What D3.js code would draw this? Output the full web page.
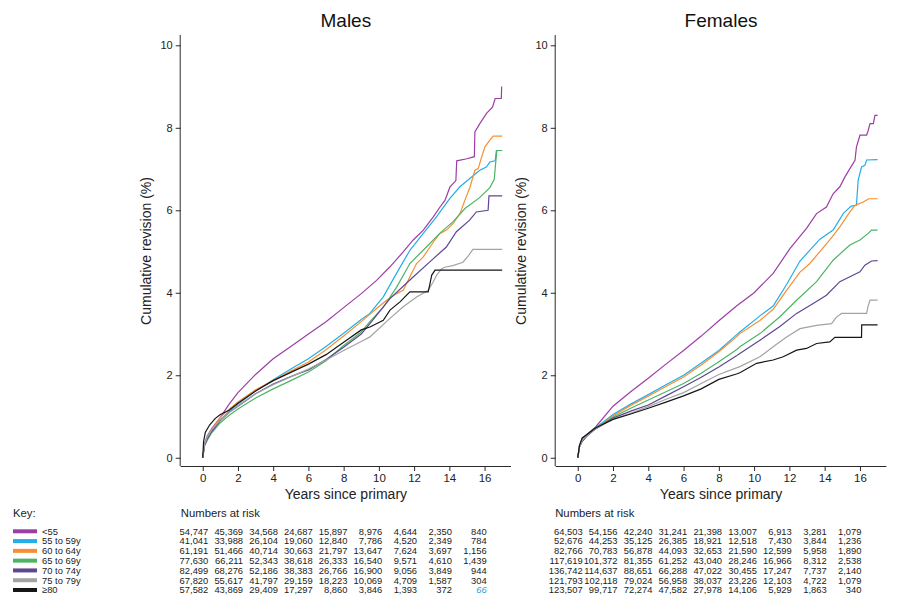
<!DOCTYPE html>
<html><head><meta charset="utf-8">
<script src="https://cdn.jsdelivr.net/npm/d3@7"></script>
<style>
html,body{margin:0;padding:0;background:#fff;}
svg{display:block;font-family:"Liberation Sans",Arial,Helvetica,sans-serif;}
</style></head>
<body><svg id="chart" width="901" height="610"></svg>
<script>
// ---------- DATA ----------
const ageGroups = ["<55","55 to 59y","60 to 64y","65 to 69y","70 to 74y","75 to 79y","\u226580"];
const yearTicks = [0,2,4,6,8,10,12,14,16];
const revisionTicks = [0,2,4,6,8,10];
const panelTitles = ["Males","Females"];

// Males cumulative revision (%) : [years, value]
const mLt55 = [[0,0],[0.1,0.35],[0.25,0.52],[0.5,0.7],[1,0.98],[1.5,1.3],[2,1.58],[3,2.02],[4,2.4],[5,2.7],[6,3.0],[7,3.3],[8,3.64],[9,3.98],[9.87,4.3],[10.63,4.63],[11.38,4.99],[11.95,5.28],[12.52,5.52],[13.09,5.84],[13.47,6.08],[13.75,6.24],[14.03,6.56],[14.37,6.72],[14.42,7.2],[15.0,7.25],[15.42,7.3],[15.45,7.9],[15.73,8.1],[16.11,8.35],[16.45,8.5],[16.6,8.71],[16.95,8.71],[16.97,9.0]];
const m5559 = [[0,0],[0.1,0.3],[0.25,0.48],[0.5,0.65],[1,0.92],[1.5,1.12],[2,1.3],[3,1.62],[4,1.89],[5,2.15],[6,2.4],[7,2.7],[8,3.02],[9,3.35],[9.49,3.5],[10.25,3.9],[11.0,4.47],[11.76,5.03],[12.52,5.44],[13.27,5.84],[14.03,6.29],[14.6,6.57],[15.16,6.77],[15.73,6.97],[16.1,7.05],[16.3,7.17],[16.6,7.2],[16.67,7.45],[17,7.45]];
const m6064 = [[0,0],[0.1,0.3],[0.25,0.48],[0.5,0.68],[1,0.98],[1.5,1.18],[2,1.35],[3,1.65],[4,1.87],[5,2.1],[6,2.32],[7,2.62],[8,2.95],[9,3.3],[9.87,3.62],[10.44,3.82],[11.0,3.98],[11.38,4.06],[11.76,4.39],[12.14,4.71],[12.52,4.87],[12.9,5.11],[13.18,5.28],[13.47,5.44],[13.84,5.52],[14.22,5.68],[14.6,5.92],[14.88,6.24],[15.17,6.56],[15.45,6.97],[15.64,7.01],[15.83,7.29],[16.02,7.54],[16.3,7.7],[16.49,7.8],[17,7.8]];
const m6569 = [[0,0],[0.1,0.28],[0.25,0.42],[0.5,0.6],[1,0.85],[1.5,1.03],[2,1.18],[3,1.45],[4,1.67],[5,1.87],[6,2.08],[7,2.35],[8,2.72],[9,3.05],[9.49,3.3],[10.25,3.65],[11.0,4.13],[11.76,4.71],[12.7,5.11],[13.45,5.44],[14.2,5.72],[14.9,6.05],[15.7,6.3],[16.3,6.55],[16.55,6.75],[16.62,7.1],[16.7,7.45],[17,7.45]];
const m7074 = [[0,0],[0.1,0.3],[0.25,0.45],[0.5,0.63],[1,0.9],[1.5,1.1],[2,1.25],[3,1.55],[4,1.79],[5,1.97],[6,2.13],[7,2.38],[8,2.68],[9,3.0],[9.49,3.25],[10.63,3.86],[11.76,4.31],[12.89,4.75],[13.83,5.11],[14.4,5.48],[15.15,5.76],[15.53,5.96],[16.2,6.0],[16.25,6.35],[17,6.35]];
const m7579 = [[0,0],[0.1,0.32],[0.25,0.5],[0.5,0.67],[1,0.92],[1.5,1.1],[2,1.26],[3,1.55],[4,1.77],[5,1.96],[6,2.15],[7,2.37],[8,2.6],[9,2.82],[9.49,2.93],[10.63,3.38],[11.38,3.66],[12.14,3.9],[12.8,4.06],[13.08,4.26],[13.27,4.42],[13.55,4.58],[13.74,4.62],[14.2,4.66],[14.77,4.74],[15.05,4.88],[15.34,5.05],[17,5.05]];
const m80 = [[0,0],[0.05,0.4],[0.15,0.62],[0.4,0.8],[0.7,0.95],[1,1.05],[1.5,1.15],[2,1.32],[3,1.62],[4,1.87],[5,2.07],[6,2.27],[7,2.5],[8,2.8],[9,3.1],[9.49,3.17],[10.25,3.33],[10.63,3.58],[11.2,3.78],[11.76,4.02],[12.8,4.02],[12.9,4.22],[13.0,4.43],[13.19,4.55],[17,4.55]];

// Females cumulative revision (%)
const fLt55 = [[0,0],[0.1,0.3],[0.25,0.45],[0.5,0.56],[1,0.74],[2,1.25],[3,1.6],[4,1.93],[5,2.27],[6,2.6],[7,2.95],[8,3.32],[9,3.68],[10,4.0],[11.08,4.47],[12.03,5.07],[12.97,5.56],[13.54,5.92],[14.1,6.08],[14.48,6.4],[14.86,6.57],[15.15,6.81],[15.43,7.01],[15.72,7.21],[15.8,7.53],[16.0,7.82],[16.38,7.82],[16.47,7.94],[16.57,8.1],[16.76,8.1],[16.85,8.3],[17,8.3]];
const f5559 = [[0,0],[0.1,0.28],[0.25,0.42],[0.5,0.55],[1,0.72],[2,1.05],[3,1.3],[4,1.53],[5,1.77],[6,2.0],[7,2.3],[8,2.6],[9,2.98],[9.19,3.05],[10.33,3.44],[11.08,3.68],[11.84,4.2],[12.6,4.77],[13.73,5.3],[14.48,5.52],[15.05,5.92],[15.5,6.1],[15.8,6.12],[15.9,6.73],[16.09,7.05],[16.28,7.09],[16.38,7.22],[17,7.23]];
const f6064 = [[0,0],[0.1,0.27],[0.25,0.4],[0.5,0.53],[1,0.7],[2,1.02],[3,1.27],[4,1.49],[5,1.73],[6,1.96],[7,2.25],[8,2.57],[9,2.93],[9.19,3.01],[10.33,3.33],[11.08,3.6],[11.84,4.06],[12.6,4.5],[13.16,4.71],[13.73,5.0],[14.29,5.28],[14.86,5.6],[15.43,5.96],[15.72,6.12],[16.19,6.2],[16.5,6.28],[17,6.28]];
const f6569 = [[0,0],[0.1,0.27],[0.25,0.4],[0.5,0.52],[1,0.7],[2,0.99],[3,1.2],[4,1.4],[5,1.6],[6,1.8],[7,2.05],[8,2.33],[9,2.62],[9.19,2.69],[10.33,3.01],[11.46,3.42],[12.41,3.82],[13.54,4.27],[14.48,4.79],[15.43,5.16],[16.0,5.28],[16.47,5.44],[16.66,5.52],[17,5.52]];
const f7074 = [[0,0],[0.1,0.27],[0.25,0.4],[0.5,0.52],[1,0.7],[2,0.96],[3,1.13],[4,1.28],[5,1.5],[6,1.72],[7,1.95],[8,2.2],[9,2.47],[9.19,2.53],[10.33,2.85],[11.46,3.18],[12.41,3.5],[13.35,3.74],[14.1,3.94],[14.86,4.27],[15.43,4.39],[16.0,4.51],[16.28,4.67],[16.66,4.77],[17,4.78]];
const f7579 = [[0,0],[0.1,0.27],[0.25,0.42],[0.5,0.53],[1,0.7],[2,0.94],[3,1.08],[4,1.24],[5,1.42],[6,1.58],[7,1.8],[8,2.02],[9,2.18],[9.19,2.21],[10.33,2.45],[11.08,2.69],[11.84,2.93],[12.6,3.13],[13.54,3.21],[14.39,3.25],[14.67,3.41],[14.96,3.5],[16.38,3.5],[16.45,3.66],[16.57,3.82],[17,3.82]];
const f80 = [[0,0],[0.1,0.3],[0.25,0.48],[0.5,0.56],[1,0.72],[2,0.93],[3,1.06],[4,1.2],[5,1.35],[6,1.5],[7,1.67],[8,1.9],[9,2.03],[9.19,2.06],[10.14,2.29],[11.08,2.37],[11.65,2.45],[12.41,2.61],[12.97,2.65],[13.54,2.77],[14.29,2.81],[14.58,2.92],[16.09,2.92],[16.1,3.22],[17,3.22]];

const malesSeries = [mLt55, m5559, m6064, m6569, m7074, m7579, m80];
const femalesSeries = [fLt55, f5559, f6064, f6569, f7074, f7579, f80];

// Numbers at risk at years 0,2,...,16
const riskMales = [
 [54747,45369,34568,24687,15897,8976,4644,2350,840],
 [41041,33988,26104,19060,12840,7786,4520,2349,784],
 [61191,51466,40714,30663,21797,13647,7624,3697,1156],
 [77630,66211,52343,38618,26333,16540,9571,4610,1439],
 [82499,68276,52186,38383,26766,16900,9056,3849,944],
 [67820,55617,41797,29159,18223,10069,4709,1587,304],
 [57582,43869,29409,17297,8860,3846,1393,372,66]
];
const riskFemales = [
 [64503,54156,42240,31241,21398,13007,6913,3281,1079],
 [52676,44253,35125,26385,18921,12518,7430,3844,1236],
 [82766,70783,56878,44093,32653,21590,12599,5958,1890],
 [117619,101372,81355,61252,43040,28246,16966,8312,2538],
 [136742,114637,88651,66288,47022,30455,17247,7737,2140],
 [121793,102118,79024,56958,38037,23226,12103,4722,1079],
 [123507,99717,72274,47582,27978,14106,5929,1863,340]
];

// ---------- STYLE ----------
const colors = ["#9c3fa3","#22aee6","#f78e33","#4cb463","#5f4690","#a3a3a3","#161616"];
const axisColor = "#2a2a2a";

const svg = d3.select("#chart");
const fmt = d3.format(",");

const panels = [
  {title: panelTitles[0], series: malesSeries, risk: riskMales, x0: 180.7, x1: 511, colR: [208.3, 486.7]},
  {title: panelTitles[1], series: femalesSeries, risk: riskFemales, x0: 555.7, x1: 886.4, colR: [582.7, 861.5]}
];

const yTop = 35, yBot = 466;

panels.forEach((p, pi) => {
  const x = d3.scaleLinear().domain([-1.25, 17.5]).range([p.x0, p.x1]);
  const y = d3.scaleLinear().domain([-0.2, 10.25]).range([yBot, yTop]);
  const g = svg.append("g");

  // axes
  const xAxis = d3.axisBottom(x).tickValues(yearTicks).tickSize(5).tickPadding(3).tickSizeOuter(0);
  const gx = g.append("g").attr("transform", `translate(0,${yBot})`).call(xAxis);
  gx.select(".domain").attr("stroke", axisColor).attr("d", `M${p.x0},0.5H${p.x1}`);
  gx.selectAll(".tick line").attr("stroke", axisColor);
  gx.selectAll(".tick text").attr("font-size", 11.5).attr("fill", "#222")
    .attr("font-family", "Liberation Sans, Arial, sans-serif");

  const yAxis = d3.axisLeft(y).tickValues(revisionTicks).tickSize(5).tickPadding(3).tickSizeOuter(0);
  const gy = g.append("g").attr("transform", `translate(${p.x0},0)`).call(yAxis);
  gy.select(".domain").attr("stroke", axisColor).attr("d", `M-0.5,${yTop}V${yBot}`);
  gy.selectAll(".tick line").attr("stroke", axisColor);
  gy.selectAll(".tick text").attr("font-size", 11).attr("fill", "#222")
    .attr("font-family", "Liberation Sans, Arial, sans-serif");

  // title
  g.append("text").attr("x", (p.x0 + p.x1) / 2).attr("y", 27)
    .attr("text-anchor", "middle").attr("font-size", 19).attr("fill", "#111").text(p.title);

  // axis titles
  g.append("text").attr("x", (p.x0 + p.x1) / 2).attr("y", 499)
    .attr("text-anchor", "middle").attr("font-size", 14).attr("fill", "#222").text("Years since primary");
  g.append("text")
    .attr("transform", `translate(${p.x0 - 30},251) rotate(-90)`)
    .attr("text-anchor", "middle").attr("font-size", 14).attr("fill", "#222").text("Cumulative revision (%)");

  // lines
  const line = d3.line().x(d => x(d[0])).y(d => y(d[1])).curve(d3.curveLinear);
  p.series.forEach((s, i) => {
    g.append("path").datum(s).attr("d", line)
      .attr("fill", "none").attr("stroke", colors[i]).attr("stroke-width", 1.2)
      .attr("stroke-linejoin", "miter");
  });

  // numbers at risk
  g.append("text").attr("x", p.colR[0] - 27.5).attr("y", 517)
    .attr("font-size", 11.3).attr("fill", "#222").text("Numbers at risk");
  const col = d3.scaleLinear().domain([0, 16]).range(p.colR);
  const row = d3.scaleLinear().domain([0, 6]).range([531.3, 590]);
  p.risk.forEach((r, ri) => {
    r.forEach((v, ci) => {
      const isLast = pi === 0 && ri === 6 && ci === 8;
      g.append("text").attr("x", col(yearTicks[ci])).attr("y", row(ri)).attr("dy", "0.35em")
        .attr("text-anchor", "end").attr("font-size", 9.4)
        .attr("fill", isLast ? "#2a9fd6" : "#222")
        .attr("font-style", isLast ? "italic" : "normal")
        .text(fmt(v));
    });
  });
});

// Key
const key = svg.append("g");
key.append("text").attr("x", 13).attr("y", 517).attr("font-size", 11.3).attr("fill", "#222").text("Key:");
const krow = d3.scaleLinear().domain([0, 6]).range([531.3, 590]);
ageGroups.forEach((a, i) => {
  key.append("rect").attr("x", 13).attr("y", krow(i) - 2).attr("width", 24).attr("height", 4).attr("fill", colors[i]);
  key.append("text").attr("x", 42).attr("y", krow(i)).attr("dy", "0.35em")
    .attr("font-size", 9.4).attr("fill", "#222").text(a);
});
</script>
</body></html>
